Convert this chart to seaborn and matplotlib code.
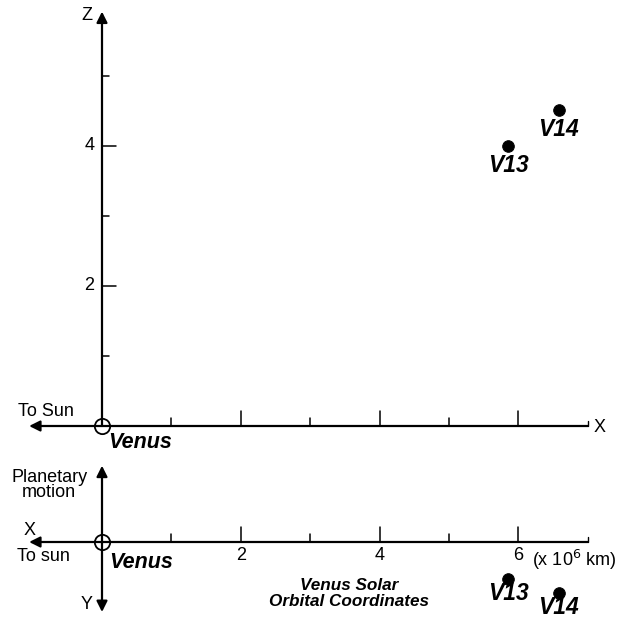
import matplotlib
matplotlib.use('Agg')
import matplotlib.pyplot as plt
import seaborn as sns
import pandas as pd

# posicoes (x10^6 km)
sondas = ['V13', 'V14']
x_sol = [5.85, 6.58]
z_sol = [4.0, 4.51]
y_sol = [0.53, 0.73]

x_ticks_major = [2, 4, 6]
x_ticks_minor = [1, 3, 5]
z_ticks_major = [2, 4]
z_ticks_minor = [1, 3, 5]

df = pd.DataFrame({'sonda': sondas, 'x': x_sol, 'z': z_sol, 'y': y_sol})

sns.set_style('white')
plt.rcParams['font.family'] = ['Liberation Sans', 'DejaVu Sans']
plt.rcParams['text.color'] = 'black'

W, H = 630, 619
PX_X = 69.4   # pixels por unidade em x
PX_Y = 70.0   # pixels por unidade em z / y
X0 = 102      # pixel da origem

fig = plt.figure(figsize=(W / 100, H / 100), dpi=100)
split = 440
ax = fig.add_axes([0, (H - split) / H, 1, split / H])
ax2 = fig.add_axes([0, 0, 1, (H - split) / H])

xlim = (-X0 / PX_X, (W - X0) / PX_X)
for a in (ax, ax2):
    a.set_xlim(*xlim)
    a.axis('off')
ax.set_ylim((426 - split) / PX_Y, 426 / PX_Y)
ax2.set_ylim((H - 542) / PX_Y, (split - 542) / PX_Y)

seta = dict(arrowstyle='-|>', lw=1.6, color='k', mutation_scale=16, shrinkA=0, shrinkB=0)
fs = 13
bi = dict(fontweight='bold', fontstyle='italic')

# ---- painel X-Z ----
ax.annotate('', xy=(-1.05, 0), xytext=(7, 0), arrowprops=seta)
ax.annotate('', xy=(0, 5.92), xytext=(0, 0), arrowprops=seta)
ax.plot([7, 7], [0, 0.07], color='k', lw=1)
for t in x_ticks_major:
    ax.plot([t, t], [0, 0.21], color='k', lw=1.1)
for t in x_ticks_minor:
    ax.plot([t, t], [0, 0.11], color='k', lw=1.1)
for t in z_ticks_major:
    ax.plot([0, 0.2], [t, t], color='k', lw=1.1)
    ax.text(-0.11, t, str(t), ha='right', va='center', fontsize=fs)
for t in z_ticks_minor:
    ax.plot([0, 0.1], [t, t], color='k', lw=1.1)
ax.plot(0, 0, 'o', ms=11, mfc='none', mec='k', mew=1.3)
ax.text(-0.14, 5.87, 'Z', ha='right', va='center', fontsize=fs)
ax.text(7.08, -0.02, 'X', ha='left', va='center', fontsize=fs)
ax.text(-1.21, 0.2, 'To Sun', ha='left', va='center', fontsize=fs)
ax.text(0.09, -0.23, 'Venus', ha='left', va='center', fontsize=15.5, **bi)

sns.scatterplot(data=df, x='x', y='z', ax=ax, s=70, color='k', edgecolor='k', legend=False)
for _, r in df.iterrows():
    ax.text(r['x'], r['z'] - 0.28, r['sonda'], ha='center', va='center', fontsize=16.5, **bi)

# ---- painel X-Y ----
ax2.annotate('', xy=(-1.05, 0), xytext=(7, 0), arrowprops=seta)
ax2.annotate('', xy=(0, -1.09), xytext=(0, 0), arrowprops=seta)
ax2.annotate('', xy=(0, 1.0), xytext=(0, 0), arrowprops=seta)
ax2.plot([7, 7], [0, -0.07], color='k', lw=1)
for t in x_ticks_major:
    ax2.plot([t, t], [0, -0.21], color='k', lw=1.1)
    ax2.text(t, 0.19, str(t), ha='center', va='center', fontsize=fs)
for t in x_ticks_minor:
    ax2.plot([t, t], [0, -0.11], color='k', lw=1.1)
ax2.text(6.2, 0.25, r'(x 10$^6$ km)', ha='left', va='center', fontsize=fs)
ax2.plot(0, 0, 'o', ms=11, mfc='none', mec='k', mew=1.3)
ax2.text(-0.76, -0.81, 'Planetary\nmotion', ha='center', va='center', fontsize=fs,
         linespacing=0.85)
ax2.text(-1.04, -0.17, 'X', ha='center', va='center', fontsize=fs)
ax2.text(-1.23, 0.21, 'To sun', ha='left', va='center', fontsize=fs)
ax2.text(0.11, 0.29, 'Venus', ha='left', va='center', fontsize=15.5, **bi)
ax2.text(-0.13, 0.89, 'Y', ha='right', va='center', fontsize=fs)
ax2.text(3.56, 0.73, 'Venus Solar\nOrbital Coordinates', ha='center', va='center',
         fontsize=12.3, linespacing=1.1, **bi)

sns.scatterplot(data=df, x='x', y='y', ax=ax2, s=70, color='k', edgecolor='k', legend=False)
for _, r in df.iterrows():
    ax2.text(r['x'], r['y'] + 0.21, r['sonda'], ha='center', va='center', fontsize=16.5, **bi)
ax2.axis('off')
ax.axis('off')

fig.savefig('out.png', dpi=100)
